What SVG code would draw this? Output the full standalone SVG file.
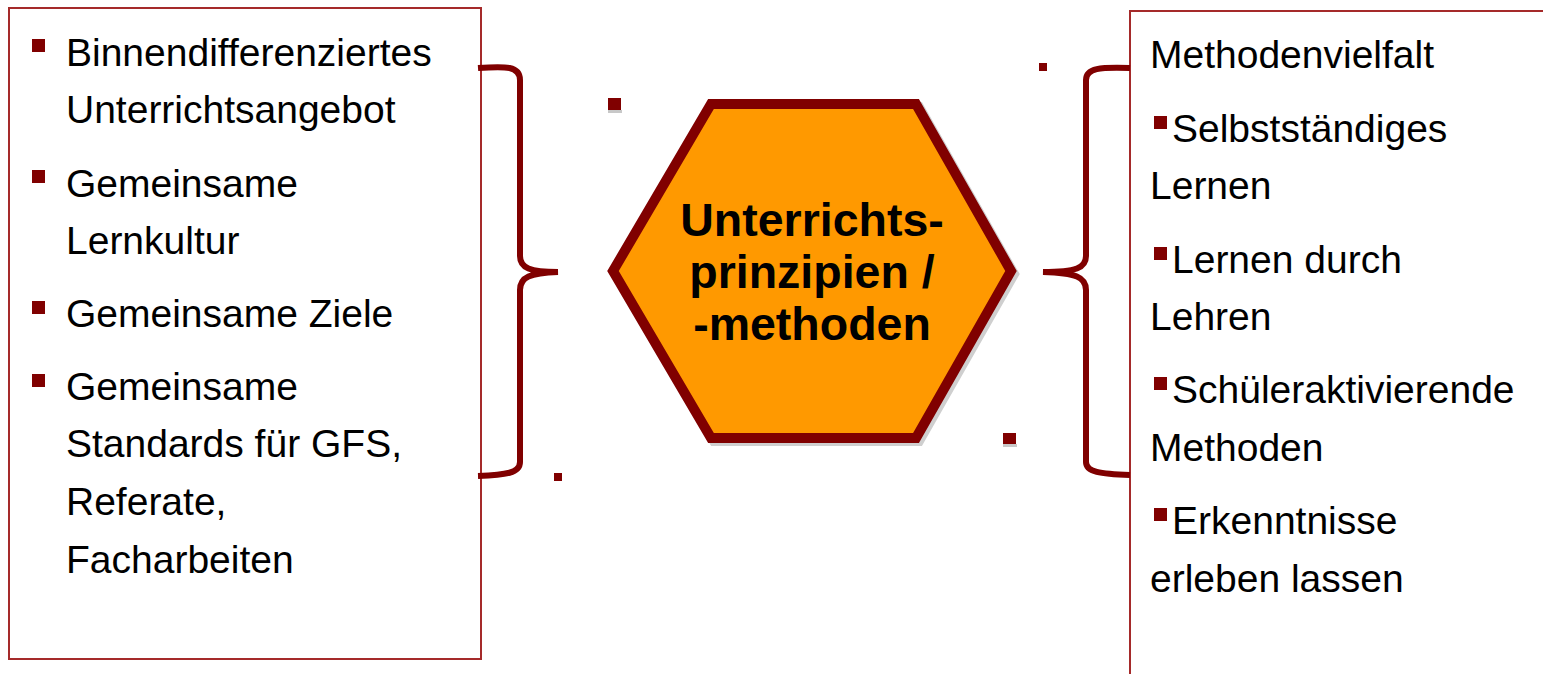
<svg xmlns="http://www.w3.org/2000/svg" width="1543" height="674" viewBox="0 0 1543 674">
<defs>
<style>
.box{fill:#fff;stroke:#a52a2a;stroke-width:2}
.brace{fill:none;stroke:#800000;stroke-width:6;stroke-linecap:butt}
.t{font-family:"Liberation Sans",Arial,sans-serif;font-size:39px;fill:#000}
.h{font-family:"Liberation Sans",Arial,sans-serif;font-size:46.5px;font-weight:bold;fill:#000;text-anchor:middle}
.b{fill:#800000}
.sh{fill:#c8c8c8}
</style>
</defs>
<rect width="1543" height="674" fill="#fff"/>
<g id="left-box">
<rect class="box" x="9" y="8" width="472" height="651"/>
<rect class="b" x="32" y="39" width="13" height="13"/>
<text class="t" x="66" y="66">Binnendifferenziertes</text>
<text class="t" x="66" y="123">Unterrichtsangebot</text>
<rect class="b" x="32" y="170" width="13" height="13"/>
<text class="t" x="66" y="197">Gemeinsame</text>
<text class="t" x="66" y="254">Lernkultur</text>
<rect class="b" x="32" y="301" width="13" height="13"/>
<text class="t" x="66" y="327">Gemeinsame Ziele</text>
<rect class="b" x="32" y="374" width="13" height="13"/>
<text class="t" x="66" y="400">Gemeinsame</text>
<text class="t" x="66" y="457">Standards für GFS,</text>
<text class="t" x="66" y="515">Referate,</text>
<text class="t" x="66" y="573">Facharbeiten</text>
</g>
<g id="right-box">
<path d="M1130 674 L1130 11 L1543 11" fill="none" stroke="#a52a2a" stroke-width="2"/>
<text class="t" x="1150" y="68">Methodenvielfalt</text>
<rect class="b" x="1154" y="116" width="13" height="13"/>
<text class="t" x="1172" y="142">Selbstständiges</text>
<text class="t" x="1150" y="199">Lernen</text>
<rect class="b" x="1154" y="247" width="13" height="13"/>
<text class="t" x="1172" y="273">Lernen durch</text>
<text class="t" x="1150" y="330">Lehren</text>
<rect class="b" x="1154" y="377" width="13" height="13"/>
<text class="t" x="1172" y="403">Schüleraktivierende</text>
<text class="t" x="1150" y="461">Methoden</text>
<rect class="b" x="1154" y="508" width="13" height="13"/>
<text class="t" x="1172" y="534">Erkenntnisse</text>
<text class="t" x="1150" y="592">erleben lassen</text>
</g>
<g id="center-hexagon">
<polygon points="616,274 714,107 919,107 1014,274 919,441 714,441" fill="none" stroke="#cfcfcf" stroke-width="10" stroke-linejoin="miter"/>
<polygon points="613,271 711,104 916,104 1011,271 916,438 711,438" fill="#ff9900" stroke="#800000" stroke-width="10" stroke-linejoin="miter"/>
<text class="h" x="812" y="236">Unterrichts-</text>
<text class="h" x="812" y="288">prinzipien /</text>
<text class="h" x="812" y="340">-methoden</text>
</g>
<g id="connectors">
<path class="brace" d="M478 68 C506 66 520 66 520 80 L520 256 C520 268 530 272 558 272 C530 273 520 277 520 290 L520 462 C520 473 506 475 478 476"/>
<path class="brace" d="M1130 68 C1100 67 1086 68 1086 80 L1086 256 C1086 268 1076 272 1043 272 C1076 273 1086 277 1086 290 L1086 462 C1086 472 1100 474 1130 475"/>
</g>
<g id="stray-marks">
<rect class="sh" x="608" y="110" width="14" height="3"/>
<rect class="b" x="608" y="98" width="13" height="12"/>
<rect class="sh" x="1003" y="444" width="14" height="3"/>
<rect class="b" x="1003" y="433" width="13" height="11"/>
<rect class="b" x="1039" y="63" width="8" height="8"/>
<rect class="b" x="554" y="473" width="8" height="8"/>
</g>
</svg>
